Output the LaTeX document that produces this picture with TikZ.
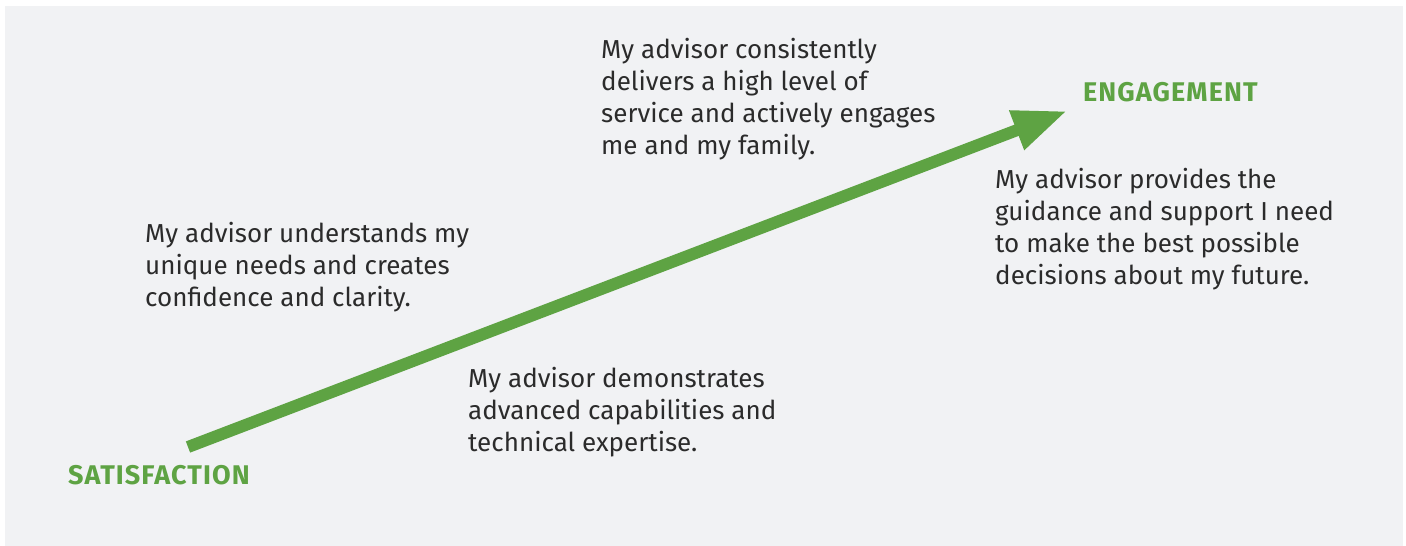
\documentclass[tikz,border=0pt]{standalone}
\usepackage{fontspec}
\setmainfont{Fira Sans}
\usetikzlibrary{arrows.meta}
\definecolor{panelgray}{HTML}{F1F2F4}
\definecolor{leafgreen}{HTML}{5EA343}
\definecolor{bodyink}{HTML}{2B2B2B}
\tikzset{
  x=1pt, y=-1pt,
  blurb/.style={anchor=base west, inner sep=0pt, align=left, text=bodyink,
    font=\fontsize{26}{32}\selectfont},
  stage/.style={anchor=base west, inner sep=0pt, text=leafgreen,
    font=\fontsize{27}{30}\bfseries\addfontfeatures{LetterSpace=4}\selectfont},
  trend/.style={draw=leafgreen, line width=12pt,
    -{Triangle[length=54pt, width=39pt]}}
}
\begin{document}
\begin{tikzpicture}
  \useasboundingbox (0,0) rectangle (1406,546);
  \fill[panelgray] (5,6) rectangle (1403,546);

  \coordinate (low) at (188,447);
  \coordinate (high) at (1067,111);
  \draw[trend] (low) -- (high);

  \node[stage] (sat) at (68,484) {SATISFACTION};
  \node[stage] (eng) at (1083,101) {ENGAGEMENT};

  % multi-line blurbs: the base anchor sits below the last line
  \node[blurb] (b1) at (145,306) {My advisor understands my\\unique needs and creates\\confidence and clarity.};
  \node[blurb] (b2) at (468,451) {My advisor demonstrates\\advanced capabilities and\\technical expertise.};
  \node[blurb] (b3) at (601,154) {My advisor consistently\\delivers a high level of\\service and actively engages\\me and my family.};
  \node[blurb] (b4) at (995,284) {My advisor provides the\\guidance and support I need\\to make the best possible\\decisions about my future.};
\end{tikzpicture}
\end{document}
